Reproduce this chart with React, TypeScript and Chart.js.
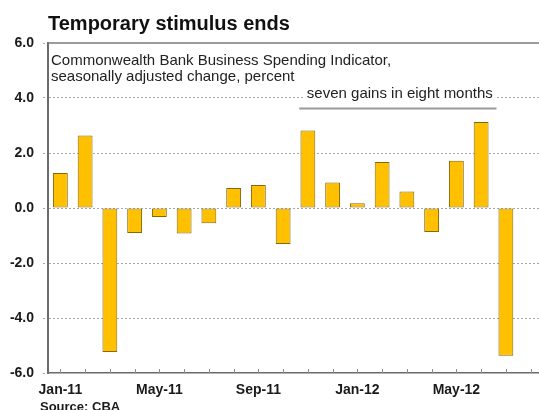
import React, { useEffect, useRef } from 'react';
import { Chart, registerables } from 'chart.js';

Chart.register(...registerables);

const categories = [
  'Jan-11', 'Feb-11', 'Mar-11', 'Apr-11', 'May-11', 'Jun-11', 'Jul-11', 'Aug-11', 'Sep-11', 'Oct-11',
  'Nov-11', 'Dec-11', 'Jan-12', 'Feb-12', 'Mar-12', 'Apr-12', 'May-12', 'Jun-12', 'Jul-12', 'Aug-12',
];
const spendingChange: (number | null)[] = [
  1.27, 2.64, -5.24, -0.91, -0.33, -0.93, -0.55, 0.73, 0.84, -1.31,
  2.82, 0.93, 0.17, 1.67, 0.6, -0.87, 1.72, 3.13, -5.37, null,
];
const yTicks = [-6, -4, -2, 0, 2, 4, 6];
const xLabelEvery = 4;
const titleText = 'Temporary stimulus ends';
const noteLines = ['Commonwealth Bank Business Spending Indicator,', 'seasonally adjusted change, percent'];
const annotationText = 'seven gains in eight months';
const annotationFrom = 10;
const annotationTo = 17;
const annotationLevel = 4;
const sourceText = 'Source: CBA';

const FONT = 'Arial, "Liberation Sans", Helvetica, sans-serif';

const overlayPlugin = {
  id: 'overlay',
  afterDraw(chart: any) {
    const { ctx, chartArea: a, scales } = chart;
    const x = scales.x;
    const y = scales.y;
    const cw = x.getPixelForValue(1) - x.getPixelForValue(0);
    ctx.save();

    // top frame line
    const topY = y.getPixelForValue(yTicks[yTicks.length - 1]);
    ctx.strokeStyle = '#7a7a7a';
    ctx.lineWidth = 1.5;
    ctx.beginPath();
    ctx.moveTo(a.left, topY);
    ctx.lineTo(a.right, topY);
    ctx.stroke();

    // inward tick marks on category axis
    ctx.strokeStyle = '#8a8a8a';
    ctx.lineWidth = 1;
    ctx.beginPath();
    for (let i = 0; i < categories.length; i++) {
      const px = Math.round(x.getPixelForValue(i)) + 0.5;
      ctx.moveTo(px, a.bottom);
      ctx.lineTo(px, a.bottom - 4);
    }
    ctx.stroke();

    // note text
    ctx.font = `15px ${FONT}`;
    ctx.fillStyle = '#222222';
    ctx.textAlign = 'left';
    ctx.textBaseline = 'alphabetic';
    ctx.fillText(noteLines[0], a.left + 3, a.top + 21.5);
    ctx.fillText(noteLines[1], a.left + 3, a.top + 38);

    // annotation
    const x1 = x.getPixelForValue(annotationFrom) - 0.35 * cw;
    const x2 = x.getPixelForValue(annotationTo) + 0.62 * cw;
    const cx = (x1 + x2) / 2 + 2;
    const base = y.getPixelForValue(annotationLevel) - 0.5;
    const w = ctx.measureText(annotationText).width;
    ctx.fillStyle = '#ffffff';
    ctx.fillRect(cx - w / 2 - 2, base - 13, w + 4, 16);
    ctx.fillStyle = '#222222';
    ctx.textAlign = 'center';
    ctx.fillText(annotationText, cx, base);
    ctx.strokeStyle = '#9a9a9a';
    ctx.lineWidth = 2;
    ctx.beginPath();
    ctx.moveTo(x1, base + 11);
    ctx.lineTo(x2, base + 11);
    ctx.stroke();

    ctx.restore();
  },
};

export default function App() {
  const canvasRef = useRef<HTMLCanvasElement | null>(null);

  useEffect(() => {
    if (!canvasRef.current) return;
    const chart = new Chart(canvasRef.current, {
      type: 'bar',
      data: {
        labels: categories,
        datasets: [
          {
            data: spendingChange,
            backgroundColor: '#FFC000',
            borderColor: '#86680a',
            borderWidth: 1,
            borderSkipped: false,
            categoryPercentage: 1,
            barPercentage: 0.6,
          },
        ],
      },
      options: {
        responsive: false,
        animation: false,
        devicePixelRatio: 1,
        layout: { padding: { top: 43, left: 0, right: 0, bottom: 0 } },
        plugins: {
          legend: { display: false },
          tooltip: { enabled: false },
          title: { display: false },
        },
        scales: {
          x: {
            type: 'category',
            offset: true,
            grid: { display: false },
            border: { display: true, color: '#6b6b6b', width: 1.5 },
            ticks: {
              autoSkip: false,
              maxRotation: 0,
              minRotation: 0,
              padding: 1,
              color: '#1a1a1a',
              font: { family: FONT, size: 14, weight: 'bold' },
              callback: (_v: any, i: number) => (i % xLabelEvery === 0 ? categories[i] : ''),
            },
            afterFit: (s: any) => {
              s.height = 37;
            },
          },
          y: {
            min: yTicks[0],
            max: yTicks[yTicks.length - 1],
            afterBuildTicks: (s: any) => {
              s.ticks = yTicks.map((v) => ({ value: v }));
            },
            ticks: {
              padding: 9,
              color: '#1a1a1a',
              font: { family: FONT, size: 14, weight: 'bold' },
              callback: (v: any) => Number(v).toFixed(1),
            },
            grid: {
              color: (c: any) => {
                const v = c && c.tick ? c.tick.value : null;
                return v === yTicks[0] || v === yTicks[yTicks.length - 1] ? 'rgba(0,0,0,0)' : '#a8a8a8';
              },
              lineWidth: 1,
              drawTicks: true,
              tickLength: 5,
              tickColor: '#a8a8a8',
              tickBorderDash: [2, 2],
            },
            border: { display: true, color: '#6b6b6b', width: 2, dash: [2, 2] },
            afterFit: (s: any) => {
              s.width = 48;
            },
          },
        },
      },
      plugins: [overlayPlugin],
    } as any);
    return () => chart.destroy();
  }, []);

  return (
    <div
      style={{
        position: 'fixed',
        left: 0,
        top: 0,
        width: 539,
        height: 410,
        overflow: 'hidden',
        background: '#ffffff',
      }}
    >
      <canvas ref={canvasRef} width={543} height={410} style={{ display: 'block', width: 543, height: 410 }} />
      <div
        style={{
          position: 'absolute',
          left: 48,
          top: 13,
          font: `bold 20px/20px ${FONT}`,
          color: '#111111',
          whiteSpace: 'nowrap',
        }}
      >
        {titleText}
      </div>
      <div
        style={{
          position: 'absolute',
          left: 40,
          top: 400,
          font: `bold 13px/13px ${FONT}`,
          color: '#1a1a1a',
          whiteSpace: 'nowrap',
        }}
      >
        {sourceText}
      </div>
    </div>
  );
}
